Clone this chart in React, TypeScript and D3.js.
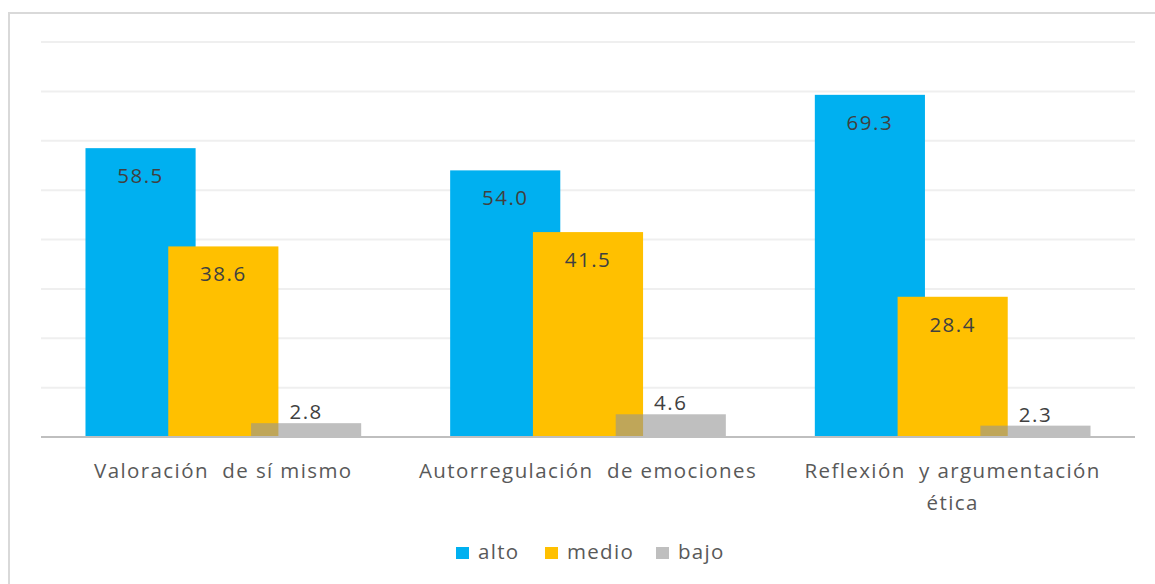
import { useEffect, useRef } from "react";
import * as d3 from "d3";

const W = 1155;
const H = 584;

const categories = [
  "Valoración de sí mismo",
  "Autorregulación de emociones",
  "Reflexión y argumentación ética",
];
// how each category label wraps under the axis
const categoryLines = [
  ["Valoración  de sí mismo"],
  ["Autorregulación  de emociones"],
  ["Reflexión  y argumentación", "ética"],
];
const seriesNames = ["alto", "medio", "bajo"];
const alto = [58.5, 54.0, 69.3];
const medio = [38.6, 41.5, 28.4];
const bajo = [2.8, 4.6, 2.3];
const yTicks = [0, 10, 20, 30, 40, 50, 60, 70, 80];

const COLORS = ["#00B0F0", "#FFC000", "#949494"];
const OPACITY = [1, 1, 0.6];
const FONT = "'Open Sans', sans-serif";
const TEXT = "#595959";

export default function App() {
  const svgRef = useRef<SVGSVGElement | null>(null);

  useEffect(() => {
    const svg = d3.select(svgRef.current);
    svg.selectAll("*").remove();

    const plot = { left: 41, right: 1135, top: 42, bottom: 437 };

    // outer chart frame (right and bottom edges fall outside the window)
    svg
      .append("rect")
      .attr("x", 9)
      .attr("y", 13)
      .attr("width", W + 20)
      .attr("height", H + 20)
      .attr("fill", "#fff")
      .attr("stroke", "#D9D9D9")
      .attr("stroke-width", 2);

    const x = d3
      .scaleBand<string>()
      .domain(categories)
      .range([plot.left, plot.right]);
    const y = d3.scaleLinear().domain([0, 80]).range([plot.bottom, plot.top]);

    // gridlines
    svg
      .append("g")
      .selectAll("line")
      .data(yTicks.slice(1))
      .join("line")
      .attr("x1", plot.left)
      .attr("x2", plot.right)
      .attr("y1", (d) => y(d))
      .attr("y2", (d) => y(d))
      .attr("stroke", "#EFEFEF")
      .attr("stroke-width", 2);

    const series = [alto, medio, bajo];
    const bw = x.bandwidth() * 0.302;
    const step = x.bandwidth() * 0.227;

    series.forEach((vals, si) => {
      const off = (si - 1) * step;
      const g = svg.append("g");
      g.selectAll("rect")
        .data(vals)
        .join("rect")
        .attr("x", (_, i) => x(categories[i])! + x.bandwidth() / 2 + off - bw / 2)
        .attr("y", (d) => y(d))
        .attr("width", bw)
        .attr("height", (d) => y(0) - y(d))
        .attr("fill", COLORS[si])
        .attr("fill-opacity", OPACITY[si]);
    });

    // baseline
    svg
      .append("line")
      .attr("x1", plot.left)
      .attr("x2", plot.right)
      .attr("y1", y(0))
      .attr("y2", y(0))
      .attr("stroke", "#BFBFBF")
      .attr("stroke-width", 2);

    // value labels: inside the top for alto/medio, above for bajo
    series.forEach((vals, si) => {
      const off = (si - 1) * step;
      svg
        .append("g")
        .selectAll("text")
        .data(vals)
        .join("text")
        .attr("x", (_, i) => x(categories[i])! + x.bandwidth() / 2 + off)
        .attr("y", (d) => (si < 2 ? y(d) + 35 : y(d) - 4))
        .attr("text-anchor", "middle")
        .attr("font-family", FONT)
        .attr("font-size", 20.5)
        .attr("letter-spacing", 1.5)
        .attr("fill", "#404040")
        .text((d) => d.toFixed(1));
    });

    // category labels
    categoryLines.forEach((lines, i) => {
      const cx = x(categories[i])! + x.bandwidth() / 2;
      const t = svg
        .append("text")
        .attr("text-anchor", "middle")
        .attr("font-family", FONT)
        .attr("font-size", 20.5)
        .attr("letter-spacing", 1.4)
        .attr("fill", TEXT)
        .attr("xml:space", "preserve")
        .style("white-space", "pre");
      lines.forEach((ln, li) => {
        t.append("tspan")
          .attr("x", cx)
          .attr("y", y(0) + 41 + li * 32)
          .text(ln);
      });
    });

    // legend
    const legendX = [456, 545, 656];
    seriesNames.forEach((name, si) => {
      const g = svg.append("g").attr("transform", `translate(${legendX[si]},552)`);
      g.append("rect")
        .attr("x", 0)
        .attr("y", -5)
        .attr("width", 13)
        .attr("height", 12)
        .attr("fill", si === 2 ? "#BFBFBF" : COLORS[si]);
      g.append("text")
        .attr("x", 22)
        .attr("y", 7)
        .attr("font-family", FONT)
        .attr("font-size", 20.5)
        .attr("letter-spacing", 1.3)
        .attr("fill", TEXT)
        .text(name);
    });
  }, []);

  return (
    <svg
      ref={svgRef}
      width={W}
      height={H}
      style={{ position: "absolute", left: 0, top: 0, display: "block", background: "#fff" }}
    />
  );
}
